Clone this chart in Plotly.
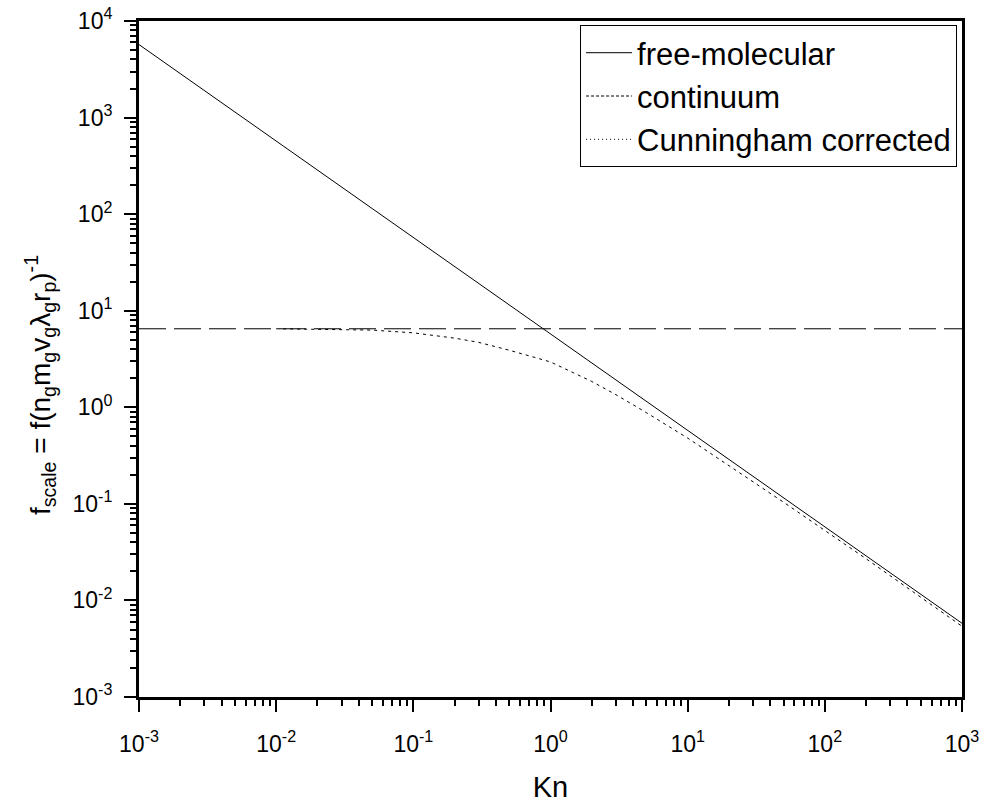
import plotly.graph_objects as go

# ---- data ----
kn_free = [1e-3, 1e-2, 1e-1, 1, 10, 100, 1000]
f_free = [5700, 570, 57, 5.7, 0.57, 0.057, 0.0058]

kn_cont = [1e-3, 1e3]
f_cont = [6.5, 6.5]

kn_cunn = [0.01, 0.02, 0.05, 0.1, 0.2, 0.3, 0.5, 1, 2, 3, 5, 10, 20, 50, 100, 200, 500, 1000]
f_cunn = [6.5, 6.45, 6.3, 5.9, 5.2, 4.7, 3.9, 2.95, 1.85, 1.35, 0.88, 0.48, 0.25, 0.104,
          0.053, 0.027, 0.0108, 0.0054]

x_ticks = [1e-3, 1e-2, 1e-1, 1, 10, 100, 1000]
x_tick_text = ["10<sup>-3</sup>", "10<sup>-2</sup>", "10<sup>-1</sup>", "10<sup>0</sup>",
               "10<sup>1</sup>", "10<sup>2</sup>", "10<sup>3</sup>"]
y_ticks = [1e-3, 1e-2, 1e-1, 1, 10, 100, 1000, 10000]
y_tick_text = ["10<sup>-3</sup>", "10<sup>-2</sup>", "10<sup>-1</sup>", "10<sup>0</sup>",
               "10<sup>1</sup>", "10<sup>2</sup>", "10<sup>3</sup>", "10<sup>4</sup>"]

names = ["free-molecular", "continuum", "Cunningham corrected"]
x_title = "Kn"
y_title = ("f<sub>scale</sub> = f(n<sub>g</sub>m<sub>g</sub>v<sub>g</sub>λ<sub>g</sub>"
           "r<sub>p</sub>)<sup>-1</sup>")

FONT = "Liberation Sans, Arial, sans-serif"

fig = go.Figure()
fig.add_trace(go.Scatter(x=kn_free, y=f_free, mode="lines", showlegend=False,
                         line=dict(color="black", width=1)))
fig.add_trace(go.Scatter(x=kn_cont, y=f_cont, mode="lines", showlegend=False,
                         line=dict(color="black", width=1, dash="27px,8px")))
fig.add_trace(go.Scatter(x=kn_cunn, y=f_cunn, mode="lines", showlegend=False,
                         line=dict(color="black", width=1, dash="3px,4px")))

# legend entries
legend_dash = ["solid", "3px,2px", "1px,3px"]
for nm, ds in zip(names, legend_dash):
    fig.add_trace(go.Scatter(x=[None], y=[None], mode="lines", name=nm,
                             line=dict(color="black", width=1, dash=ds)))

axis_common = dict(
    type="log", showgrid=False, zeroline=False, automargin=False,
    showline=True, linecolor="black", linewidth=3, mirror=True,
    ticks="outside", ticklen=12, tickwidth=2, tickcolor="black",
    tickfont=dict(family=FONT, size=23, color="black"),
    minor=dict(ticks="outside", ticklen=6, tickwidth=2, tickcolor="black",
               dtick="D1", showgrid=False),
)

fig.update_layout(
    width=984, height=803,
    margin=dict(l=139, r=22, t=21, b=106, autoexpand=False),
    paper_bgcolor="white", plot_bgcolor="white",
    font=dict(family=FONT, color="black"),
    xaxis=dict(axis_common, range=[-3, 3], tickmode="array",
               tickvals=x_ticks, ticktext=x_tick_text, ticklabelstandoff=12,
               title=dict(text=x_title, font=dict(family=FONT, size=29), standoff=22)),
    yaxis=dict(axis_common, range=[-3, 4], tickmode="array",
               tickvals=y_ticks, ticktext=y_tick_text, ticklabelstandoff=7),
    legend=dict(x=0.994, y=0.994, xanchor="right", yanchor="top",
                bgcolor="white", bordercolor="black", borderwidth=1,
                font=dict(family=FONT, size=31, color="black"),
                tracegroupgap=0, itemwidth=46),
    annotations=[dict(text=y_title, textangle=-90, showarrow=False,
                      xref="paper", yref="paper", x=-0.1203, y=0.4615,
                      xanchor="center", yanchor="middle",
                      font=dict(family=FONT, size=28, color="black"))],
)

fig.write_html("out.html")
